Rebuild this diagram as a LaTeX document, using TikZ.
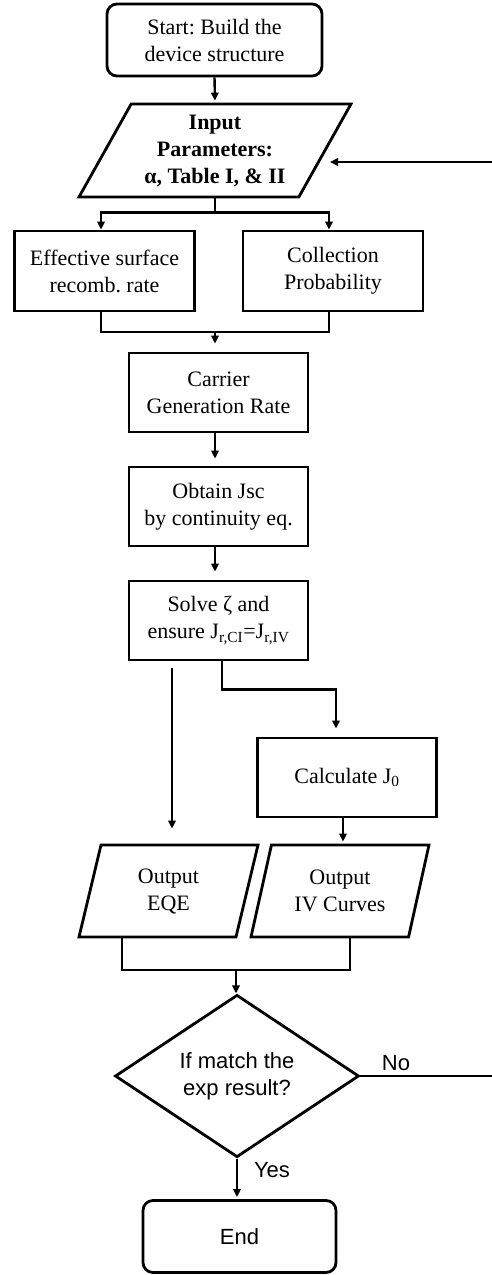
\documentclass[tikz,border=0pt]{standalone}
\usepackage{fontspec}
\setmainfont{Liberation Serif}
\setsansfont{Liberation Sans}
\usetikzlibrary{shapes.geometric,arrows.meta}
\frenchspacing
\begin{document}
\begin{tikzpicture}[x=1pt,y=-1pt,
  every node/.style={font=\fontsize{22}{27}\selectfont, align=center, inner sep=0pt},
  proc/.style={draw, line width=2.8pt, rectangle, minimum width=179, minimum height=79},
  term/.style={draw, line width=2.8pt, rectangle, rounded corners=10pt},
  io/.style={draw, line width=2.8pt, shape=trapezium, trapezium stretches body},
  dec/.style={draw, line width=2.8pt, shape=diamond},
  conn/.style={line width=2.4pt},
  arr/.style={conn, -{Triangle[length=8pt,width=7.5pt]}},
  lbl/.style={font=\sffamily\fontsize{22}{27}\selectfont}
]
\useasboundingbox (0,0) rectangle (492,1275);

\node[term, minimum width=215, minimum height=72] (start) at (214.5,40) {Start: Build the\\device structure};
\node[io, trapezium left angle=54, trapezium right angle=126, minimum width=272, minimum height=93] (in) at (215,150.5) {\bfseries Input\\\bfseries Parameters:\\\bfseries α, Table I, \& II};
\node[proc, minimum width=180, minimum height=80] (esr) at (104.5,271) {Effective surface\\recomb. rate};
\node[proc, minimum width=180, minimum height=80] (cp) at (333,271) {Collection\\Probability};
\node[proc] (cgr) at (218.5,392.5) {Carrier\\Generation Rate};
\node[proc] (jsc) at (218.5,506.5) {Obtain Jsc\\by continuity eq.};
\node[proc] (solve) at (218.5,620.5) {Solve ζ and\\ensure J\textsubscript{r,CI}=J\textsubscript{r,IV}};
\node[proc] (calc) at (347,777.5) {Calculate J\textsubscript{0}};
\node[io, trapezium left angle=64, trapezium right angle=116, minimum width=179, minimum height=92] (eqe) at (168.5,891) {Output\\EQE};
\node[io, trapezium left angle=64, trapezium right angle=116, minimum width=178, minimum height=92] (iv) at (340,891) {Output\\IV Curves};
\node[dec, lbl, minimum width=244, minimum height=149] (dc) at (237,1076) {If match the\\exp result?};
\node[term, lbl, minimum width=193, minimum height=72] (end) at (239.5,1236.5) {End};

\node[lbl] (no) at (396,1063) {No};
\node[lbl] (yes) at (272,1170) {Yes};

\coordinate (fbR) at (492,162);
\coordinate (fbT) at (330,162);
\coordinate (noR) at (492,1078);
\coordinate (m1) at (215,332);
\coordinate (m2) at (236,970);

% connectors
\draw[arr, shorten >=2pt] (start.south) -- (in.north);
\draw[conn] (in.south) -- ++(0,14) coordinate (sp);
\draw[arr] (sp) -| ([xshift=-3.5]esr.north);
\draw[arr] (sp) -| ([xshift=-4]cp.north);
\draw[conn] ([xshift=-3.5]esr.south) |- (m1);
\draw[conn] ([xshift=-4]cp.south) |- (m1);
\draw[arr, shorten >=8pt] (m1) -- (m1 |- cgr.north);
\draw[arr, shorten >=7pt] ([xshift=-3.5]cgr.south) -- ([xshift=-3.5]jsc.north);
\draw[arr, shorten >=8pt] ([xshift=-3.5]jsc.south) -- ([xshift=-3.5]solve.north);
\draw[arr, shorten <=7pt, shorten >=15pt] ([xshift=-46.5]solve.south) -- ([xshift=-46.5]solve.south |- eqe.north);
\draw[arr, shorten >=8pt] ([xshift=3.5]solve.south) -- ++(0,28) -| ([xshift=-11]calc.north);
\draw[arr, shorten >=2pt] ([xshift=-4]calc.south) -- ([xshift=-4]calc.south |- iv.north);
\draw[conn] ([xshift=-46.5]eqe.south) |- (m2);
\draw[conn] ([xshift=10]iv.south) |- (m2);
\draw[arr] (m2) -- (m2 |- dc.north);
\draw[arr, shorten >=2pt] (dc.south) -- (dc.south |- end.north);
\draw[conn] (dc.east) -- (dc.east -| noR);
\draw[arr] (fbR) -- (fbT);
\end{tikzpicture}
\end{document}
